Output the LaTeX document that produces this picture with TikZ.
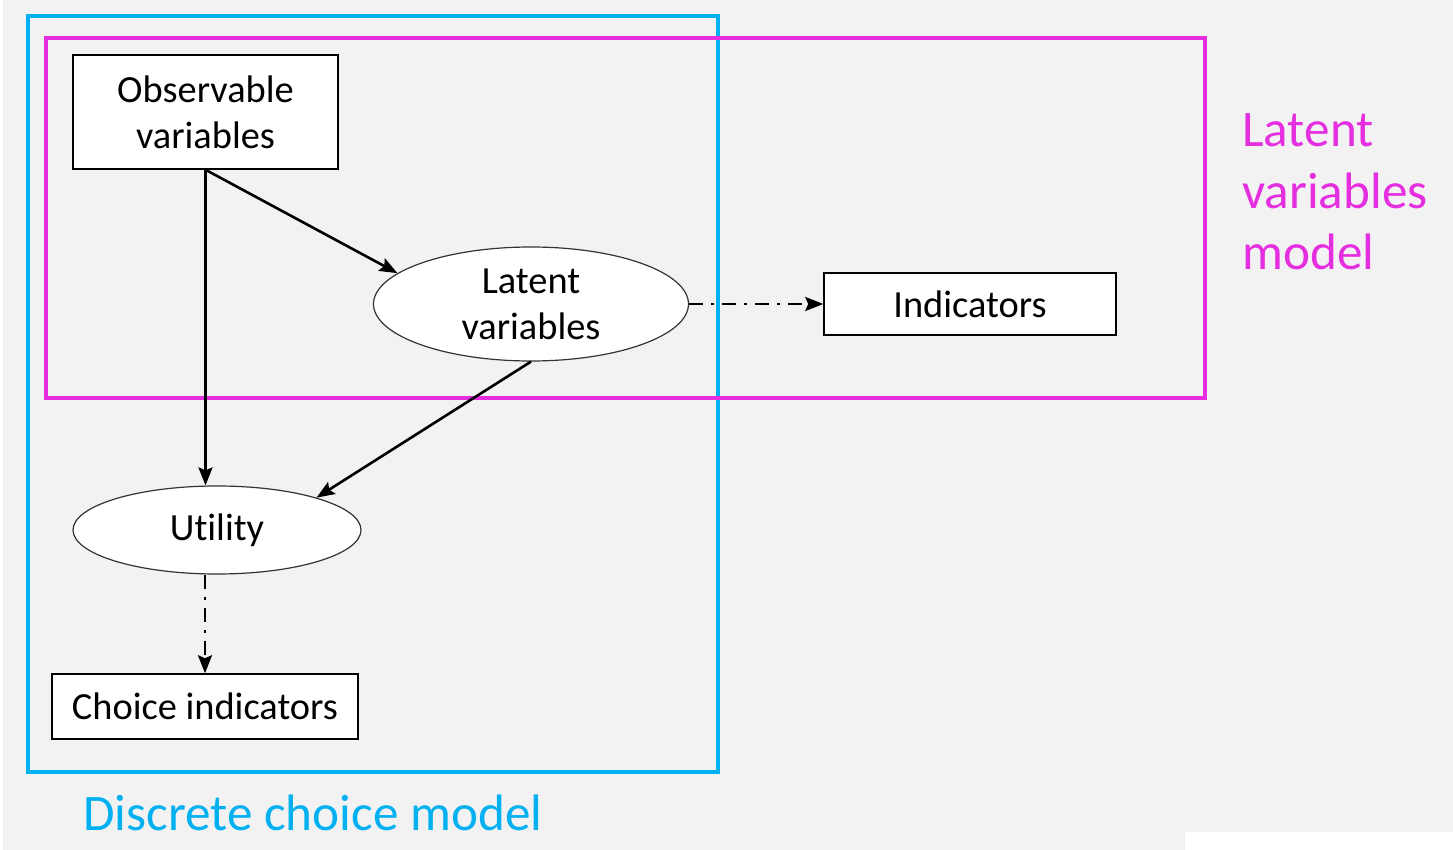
\documentclass[tikz,border=0pt]{standalone}
\usepackage{fontspec}
\setmainfont{Carlito}[Ligatures=CommonOff]
\usetikzlibrary{shapes.geometric,arrows.meta,positioning,calc}
\definecolor{dcmblue}{RGB}{0,176,240}
\definecolor{lvmpink}{RGB}{229,46,224}
\definecolor{panelbg}{RGB}{242,242,242}

\begin{document}
\begin{tikzpicture}[
    x=0.5pt, y=-0.5pt,
    on grid,
    >={Stealth[length=9pt,width=7pt,inset=1.5pt]},
    every node/.style={font=\fontsize{19.2}{23}\selectfont},
    boxnode/.style={rectangle, draw=black, fill=white, line width=0.75pt, align=center, inner sep=2pt},
    ovalnode/.style={ellipse, draw=black!80, fill=white, line width=0.6pt, align=center, inner sep=0pt},
    flow/.style={->, line width=1.3pt},
    dashflow/.style={->, line width=1.3pt, dash pattern=on 7pt off 4pt on 1.5pt off 4pt},
    framelabel/.style={font=\fontsize{25.6}{30.8}\selectfont, align=left, inner sep=0pt}
]
    % backdrop
    \useasboundingbox (0,0) rectangle (1453,850);
    \fill[white] (0,0) rectangle (1453,850);
    \fill[panelbg] (3,0) rectangle (1453,850);
    \fill[white] (1185,832) rectangle (1453,850);

    % model frames
    \draw[dcmblue, line width=2pt] (28,16) rectangle (718,772);
    \draw[lvmpink, line width=2pt] (46,38) rectangle (1205,398);

    \node (obs) [boxnode, minimum width=132.5pt, minimum height=57pt] at (205.5,112) {Observable\\variables};
    \node (latent) [ovalnode, minimum width=157.5pt, minimum height=57pt, below right=96pt and 162.75pt of obs] {Latent\\variables};
    \node (ind) [boxnode, minimum width=146pt, minimum height=31pt, right=219.5pt of latent] {Indicators};
    \node (util) [ovalnode, minimum width=144pt, minimum height=44pt, below=209pt of obs, xshift=5.75pt] {Utility};
    \node (choice) [boxnode, minimum width=153pt, minimum height=32.5pt, below=297.25pt of obs, xshift=-0.25pt] {Choice indicators};

    \node (lvmlabel) [framelabel, text=lvmpink, anchor=west] at (1242,192) {Latent\\variables\\model};
    \node (dcmlabel) [framelabel, text=dcmblue, anchor=base west] at (83,830) {Discrete choice model};

    \draw[flow] (obs.south) -- (obs.south |- util.north);
    \draw[flow] (obs.south) -- (latent.167);
    \draw[flow] (latent.south) -- (util.18);
    \draw[dashflow] (latent.east) -- (ind.west);
    \draw[dashflow] (choice.north |- util.south) -- (choice.north);

\end{tikzpicture}
\end{document}
